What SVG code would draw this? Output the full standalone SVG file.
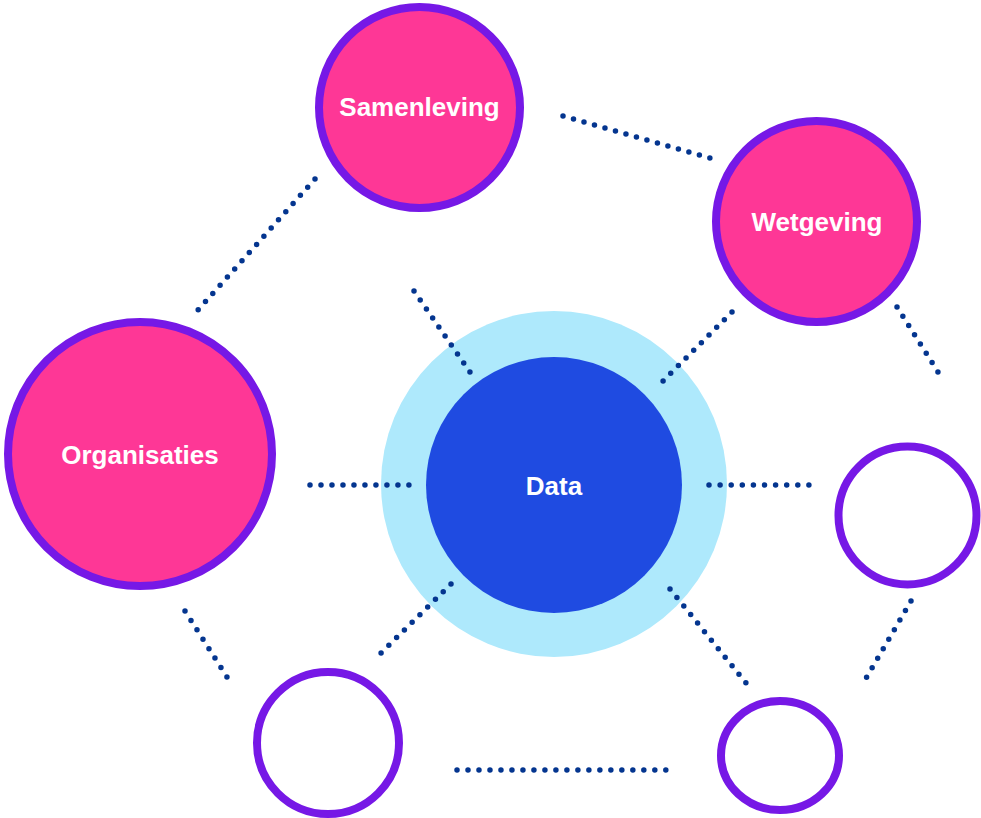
<svg xmlns="http://www.w3.org/2000/svg" width="981" height="818" viewBox="0 0 981 818">
<style>
.dot{fill:none;stroke:#04358f;stroke-width:5.5;stroke-linecap:round}
.pink{fill:#fe3796;stroke:#7618e6;stroke-width:8}
.empty{fill:#ffffff;stroke:#7618e6;stroke-width:8}
.lbl{font-family:"Liberation Sans",Arial,sans-serif;font-weight:bold;font-size:26px;fill:#ffffff;text-anchor:middle}
</style>
<rect width="981" height="818" fill="#ffffff"/>
<g id="data-halo">
<circle cx="554" cy="484" r="173" fill="#aee9fc"/>
</g>
<g id="connectors">
<line class="dot" x1="563" y1="116" x2="710" y2="158" stroke-dasharray="0 10.91"/>
<line class="dot" x1="315" y1="179" x2="198" y2="310" stroke-dasharray="0 10.96"/>
<line class="dot" x1="414" y1="291" x2="470" y2="372" stroke-dasharray="0 10.93"/>
<line class="dot" x1="732" y1="312" x2="663" y2="381" stroke-dasharray="0 10.83"/>
<line class="dot" x1="897" y1="307" x2="938" y2="372" stroke-dasharray="0 10.96"/>
<line class="dot" x1="310" y1="485" x2="409" y2="485" stroke-dasharray="0 10.99"/>
<line class="dot" x1="709" y1="485" x2="809" y2="485" stroke-dasharray="0 11.1"/>
<line class="dot" x1="451" y1="584" x2="381" y2="653" stroke-dasharray="0 10.91"/>
<line class="dot" x1="670" y1="589" x2="746" y2="683" stroke-dasharray="0 10.97"/>
<line class="dot" x1="185" y1="611" x2="227" y2="677" stroke-dasharray="0 11.16"/>
<line class="dot" x1="911" y1="601" x2="866.5" y2="677.5" stroke-dasharray="0 11.04"/>
<line class="dot" x1="457" y1="770" x2="666" y2="770" stroke-dasharray="0 10.99"/>
</g>
<g id="data">
<circle cx="554" cy="485" r="128" fill="#1f4be1"/>
<text class="lbl" x="554" y="495">Data</text>
</g>
<g id="samenleving">
<circle class="pink" cx="419.5" cy="107.5" r="100.5"/>
<text class="lbl" x="419.5" y="116">Samenleving</text>
</g>
<g id="wetgeving">
<circle class="pink" cx="816.5" cy="221.5" r="100.5"/>
<text class="lbl" x="817" y="231">Wetgeving</text>
</g>
<g id="organisaties">
<circle class="pink" cx="140" cy="454" r="132"/>
<text class="lbl" x="140" y="464">Organisaties</text>
</g>
<g id="empty-right">
<circle class="empty" cx="907.5" cy="515.5" r="69"/>
</g>
<g id="empty-bottom-left">
<circle class="empty" cx="328" cy="743" r="71"/>
</g>
<g id="empty-bottom-right">
<ellipse class="empty" cx="780" cy="755.5" rx="59" ry="54.5"/>
</g>
</svg>
